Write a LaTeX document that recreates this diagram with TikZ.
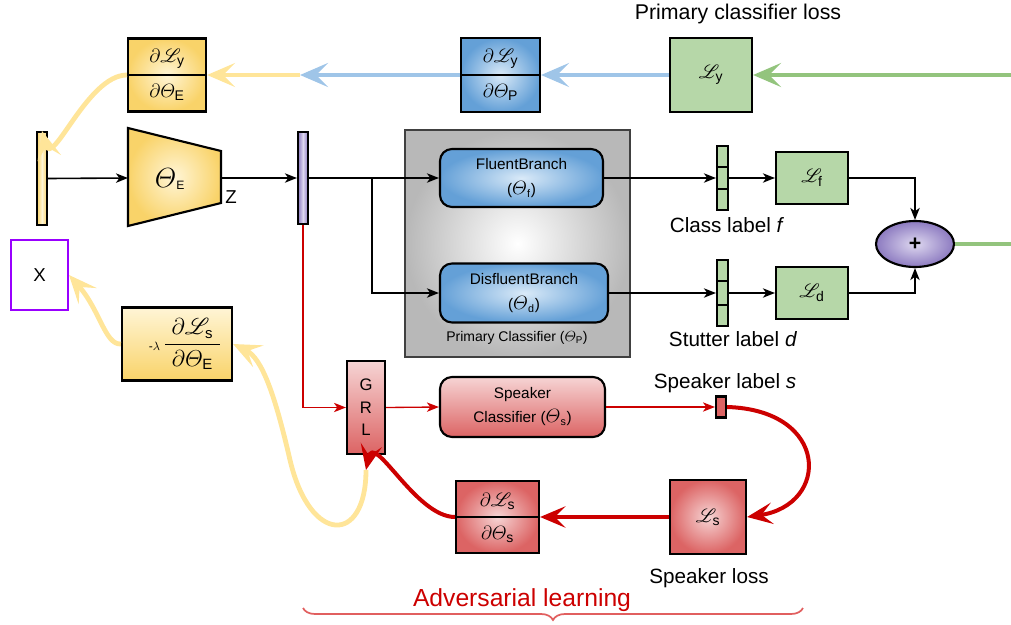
\documentclass[tikz,border=0pt]{standalone}
\usepackage{amsmath}
\usepackage{mathrsfs}
\usepackage{fontspec}
\setmainfont{Liberation Sans}
\usetikzlibrary{arrows.meta,shapes.geometric,decorations.pathreplacing,calc}

\definecolor{ygold}{RGB}{249,211,105}
\definecolor{ylight}{RGB}{255,245,214}
\definecolor{yarrow}{RGB}{255,229,153}
\definecolor{bdark}{RGB}{100,160,215}
\definecolor{blight}{RGB}{218,234,248}
\definecolor{barrow}{RGB}{159,197,232}
\definecolor{gbox}{RGB}{182,215,168}
\definecolor{garrow}{RGB}{147,196,125}
\definecolor{rdark}{RGB}{220,100,100}
\definecolor{rlight}{RGB}{246,212,212}
\definecolor{rarrow}{RGB}{204,0,0}
\definecolor{pdark}{RGB}{140,122,192}
\definecolor{plight}{RGB}{222,216,240}
\definecolor{xviolet}{RGB}{153,0,255}
\definecolor{bracered}{RGB}{225,95,95}

% a larger theta in running text
\newcommand{\bigth}[2]{$\mbox{\fontsize{#1}{#1}\selectfont$\varTheta$}_{\text{#2}}$}

\tikzset{
  box/.style={draw=black, line width=1.6pt, inner sep=0pt},
  ybox/.style={box, inner color=ylight, outer color=ygold},
  bbox/.style={box, inner color=blight, outer color=bdark},
  gbox/.style={box, fill=gbox},
  rbox/.style={box, inner color=rlight, outer color=rdark},
  rvbox/.style={box, top color=rlight, bottom color=rdark},
  mth/.style={inner sep=0pt, font=\fontsize{15}{17}\selectfont},
  lab/.style={inner sep=0pt, font=\fontsize{15.5}{18}\selectfont},
  small/.style={inner sep=0pt, font=\fontsize{11.5}{19}\selectfont, align=center},
  thk/.style={line width=3.6pt, -{Stealth[length=21pt,width=18pt,inset=9pt]}},
  rthk/.style={draw=rarrow, line width=3pt, -{Stealth[length=19pt,width=16pt,inset=8pt]}},
  blk/.style={line width=1.2pt, -{Stealth[length=9pt,width=7pt,inset=2.5pt]}},
  rthin/.style={draw=rarrow, line width=1pt, -{Stealth[length=9pt,width=7pt,inset=2.5pt]}}
}

\begin{document}
\begin{tikzpicture}[x=0.75pt,y=0.75pt,yscale=-1,xscale=1]
\useasboundingbox (0,0) rectangle (1011,625);

% gradient boxes of the top row
\node[ybox, minimum width=58.5pt, minimum height=54.75pt] (dLyE) at (167,75) {};
\draw[line width=1.6pt] (dLyE.west) -- (dLyE.east);
\node[mth] (dLyEa) at ($(dLyE.center)+(0,-16)$) {$\partial\mathscr{L}_{\text{y}}$};
\node[mth] (dLyEb) at ($(dLyE.center)+(0,17)$) {$\partial\varTheta_{\text{E}}$};

\node[bbox, minimum width=59.25pt, minimum height=55.5pt] (dLyP) at (500.5,75) {};
\draw[line width=1.6pt] (dLyP.west) -- (dLyP.east);
\node[mth] (dLyPa) at ($(dLyP.center)+(0,-16)$) {$\partial\mathscr{L}_{\text{y}}$};
\node[mth] (dLyPb) at ($(dLyP.center)+(0,17)$) {$\partial\varTheta_{\text{P}}$};

\node[gbox, minimum width=61.5pt, minimum height=55.5pt] (Ly) at (711,75) {};
\node[mth] (Lyt) at (Ly.center) {$\mathscr{L}_{\text{y}}$};
\node[lab, font=\fontsize{16}{18}\selectfont] (Lylab) at (738,14) {Primary classifier loss};

% encoder
\node[box, left color=ygold, right color=ygold, middle color=ylight, minimum width=7.5pt, minimum height=69.75pt] (inbar) at (42,178.5) {};
\draw[line width=1.6pt, inner color=ylight, outer color=ygold] (128,128) -- (221,151) -- (221,203) -- (128,226) -- cycle;
\coordinate (encL) at (128,178);
\coordinate (encR) at (221,178);
\node[inner sep=0pt, font=\fontsize{13}{15}\selectfont] (enc) at (170,179) {\bigth{20}{E}};
\node[inner sep=0pt, font=\fontsize{14}{16}\selectfont] (zlab) at (231,197) {Z};
\node[box, left color=pdark, right color=pdark, middle color=plight, minimum width=7.5pt, minimum height=69pt] (pbar) at (303,178) {};

% primary classifier
\node[box, draw=black!75, line width=1.4pt, inner color=white, outer color=black!28, minimum width=168.75pt, minimum height=170.25pt] (prim) at (517.5,243.5) {};
\node[bbox, rounded corners=9pt, minimum width=122.25pt, minimum height=43.5pt, small] (fluent) at (521.5,178) {FluentBranch\\(\bigth{14}{f})};
\node[bbox, rounded corners=9pt, minimum width=126pt, minimum height=44.25pt, small] (disfl) at (524,293) {DisfluentBranch\\(\bigth{14}{d})};
\node[inner sep=0pt, font=\fontsize{10.5}{12}\selectfont] (primlab) at (517,338) {Primary Classifier ($\varTheta_{\text{P}}$)};

% label bars and losses
\node[gbox, minimum width=8.25pt, minimum height=48pt] (fbar) at (722.5,178) {};
\draw[line width=1.6pt] ($(fbar.north west)!0.33!(fbar.south west)$) -- ($(fbar.north east)!0.33!(fbar.south east)$);
\draw[line width=1.6pt] ($(fbar.north west)!0.67!(fbar.south west)$) -- ($(fbar.north east)!0.67!(fbar.south east)$);
\node[gbox, minimum width=54pt, minimum height=39pt] (Lf) at (812,178) {};
\node[mth] (Lft) at (Lf.center) {$\mathscr{L}_{\text{f}}$};
\node[lab] (fbarlab) at (727,225) {Class label \textit{f}};

\node[gbox, minimum width=8.25pt, minimum height=49.5pt] (dbar) at (722.5,293) {};
\draw[line width=1.6pt] ($(dbar.north west)!0.33!(dbar.south west)$) -- ($(dbar.north east)!0.33!(dbar.south east)$);
\draw[line width=1.6pt] ($(dbar.north west)!0.67!(dbar.south west)$) -- ($(dbar.north east)!0.67!(dbar.south east)$);
\node[gbox, minimum width=54pt, minimum height=39pt] (Ld) at (812,293) {};
\node[mth] (Ldt) at (Ld.center) {$\mathscr{L}_{\text{d}}$};
\node[lab] (dbarlab) at (733,339) {Stutter label \textit{d}};

\node[box, ellipse, inner color=plight, outer color=pdark, minimum width=58.5pt, minimum height=34.5pt, font=\fontsize{16}{18}\selectfont\bfseries] (plus) at (915,244) {+};

% input and reversed gradient
\node[draw=xviolet, line width=1.5pt, fill=white, minimum width=42.75pt, minimum height=52.5pt, font=\fontsize{14}{16}\selectfont] (X) at (39.5,275) {X};
\node[box, top color=ylight, bottom color=ygold, minimum width=82.5pt, minimum height=54.75pt] (dLsE) at (177,344) {};
\node[inner sep=0pt] (dLsEt) at (185,344) {{\fontsize{9}{10}\selectfont -$\lambda$}\ \fontsize{16}{18}\selectfont$\dfrac{\;\partial\mathscr{L}_{\text{s}}\;}{\partial\varTheta_{\text{E}}}$};

% adversarial branch
\node[rvbox, minimum width=28.5pt, minimum height=69.75pt, small, font=\fontsize{12.5}{17}\selectfont] (grl) at (366,407.5) {G\\R\\L};
\node[rvbox, rounded corners=9pt, minimum width=123.75pt, minimum height=45pt, small, font=\fontsize{11.5}{18}\selectfont] (spk) at (522.5,407) {Speaker\\Classifier (\bigth{15}{s})};
\node[box, fill=rdark, minimum width=7.5pt, minimum height=15.75pt] (sbar) at (721,407) {};
\node[lab] (sbarlab) at (725,383) {Speaker label \textit{s}};
\node[rbox, minimum width=57pt, minimum height=55.5pt] (Ls) at (708,517) {};
\node[mth] (Lst) at (Ls.center) {$\mathscr{L}_{\text{s}}$};
\node[lab] (Lslab) at (709,578) {Speaker loss};
\node[rbox, minimum width=62.25pt, minimum height=54pt] (dLss) at (497.5,517) {};
\draw[line width=1.6pt] (dLss.west) -- (dLss.east);
\node[mth] (dLssa) at ($(dLss.center)+(0,-16)$) {$\partial\mathscr{L}_{\text{s}}$};
\node[mth] (dLssb) at ($(dLss.center)+(0,17)$) {$\partial\varTheta_{\text{s}}$};

% brace
\coordinate (bl) at (303,608);
\coordinate (br) at (803,608);
\draw[decorate, decoration={brace, amplitude=9pt, mirror}, draw=bracered, line width=1.3pt] (bl) -- (br);
\node[inner sep=0pt, text=rarrow, font=\fontsize{18.5}{20}\selectfont] (advlab) at (522,600) {Adversarial learning};

% backward arrows
\coordinate (gin) at (1011,75);
\coordinate (mid) at (300,75);
\coordinate (gout) at (1011,244);
\coordinate (grlin) at (366,470);
\draw[thk, draw=garrow] (gin) -- (Ly.east);
\draw[thk, draw=yarrow] (mid) -- (dLyE.east);
\draw[thk, draw=barrow] (Ly.west) -- (dLyP.east);
\draw[thk, draw=barrow] (dLyP.west) -- (mid);
\draw[thk, draw=yarrow] (dLyE.west) to[out=180, in=75] (inbar.north);
\draw[line width=3.6pt, draw=garrow] (plus.east) -- (gout);

% forward arrows
\coordinate (brk) at (372,178);
\draw[blk] (inbar.east) -- (encL);
\draw[blk] (encR) -- (pbar.west);
\draw[blk] (pbar.east) -- (fluent.west);
\draw[blk] (brk) |- (disfl.west);
\draw[blk] (fluent.east) -- (fbar.west);
\draw[blk] (fbar.east) -- (Lf.west);
\draw[blk] (disfl.east) -- (dbar.west);
\draw[blk] (dbar.east) -- (Ld.west);
\draw[blk] (Lf.east) -| (plus.north);
\draw[blk] (Ld.east) -| (plus.south);
\draw[rthin] (pbar.south) |- (grl.west);
\draw[rthin] (grl.east) -- (spk.west);
\draw[rthin] (spk.east) -- (sbar.west);

% adversarial loop
\draw[thk, draw=yarrow] (grlin) .. controls (366,545) and (310,545) .. (290,460) .. controls (275,395) and (262,358) .. (dLsE.east);
\draw[thk, draw=yarrow] (dLsE.west) .. controls (105,345) and (100,310) .. (X.east);
\draw[rthk] (sbar.east) .. controls (830,410) and (830,505) .. (Ls.east);
\draw[rthk] (Ls.west) -- (dLss.east);
\draw[rthk] (dLss.west) to[out=180, in=-78] (grlin);

\end{tikzpicture}
\end{document}
